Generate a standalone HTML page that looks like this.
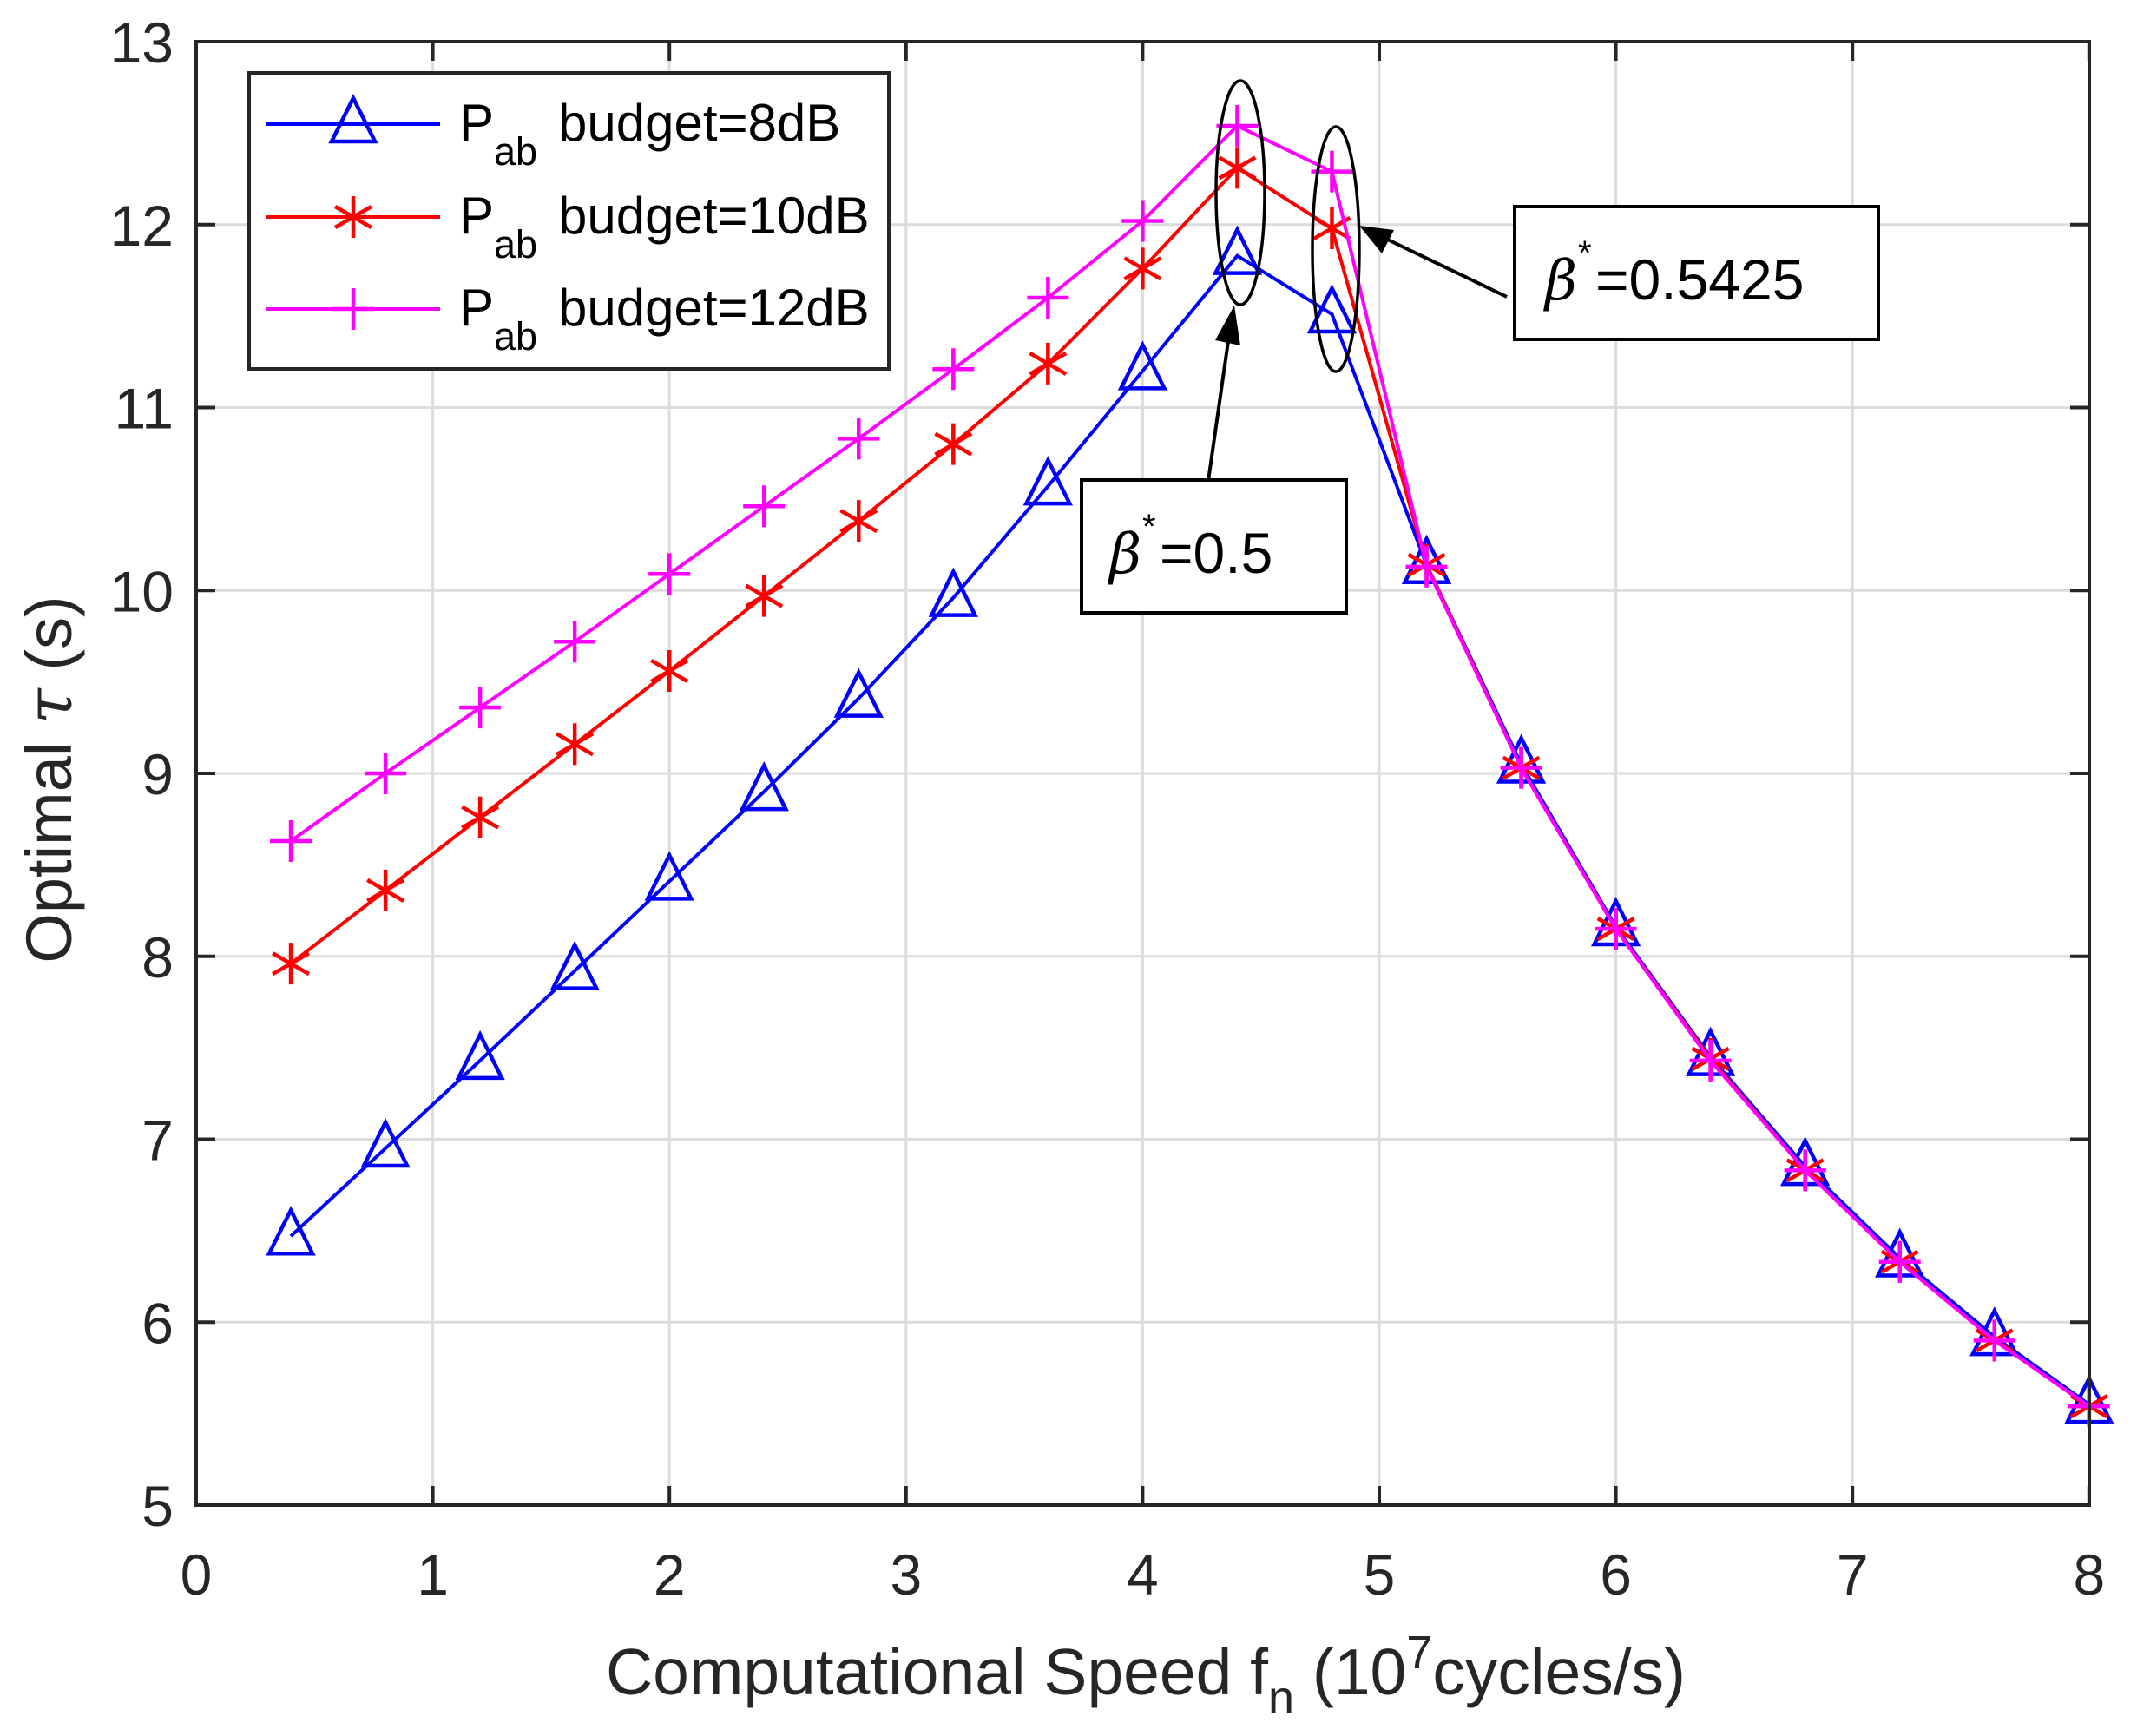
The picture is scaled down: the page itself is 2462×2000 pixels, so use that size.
<!DOCTYPE html>
<html><head><meta charset="utf-8"><style>
html,body{margin:0;padding:0;background:#fff;}
svg{display:block;font-family:"Liberation Sans",Arial,sans-serif;}
</style></head><body>
<svg id="s" width="2462" height="2000" viewBox="0 0 2462 2000" xmlns="http://www.w3.org/2000/svg">
<rect width="2462" height="2000" fill="#fff"/>
<g id="grid" stroke="#dcdcdc" stroke-width="3"></g>
<g id="data"></g>
<g id="axes"></g>
<rect x="287" y="84" width="737" height="341" fill="#fff" stroke="#262626" stroke-width="4"/>
<g id="leg"></g>
<g font-size="60" fill="#000">
<text x="529" y="162">P</text><text x="569" y="190" font-size="45">ab</text><text x="643" y="162">budget=8dB</text>
<text x="529" y="269">P</text><text x="569" y="297" font-size="45">ab</text><text x="643" y="269">budget=10dB</text>
<text x="529" y="375">P</text><text x="569" y="403" font-size="45">ab</text><text x="643" y="375">budget=12dB</text>
</g>
<ellipse cx="1429" cy="222" rx="28" ry="129" fill="none" stroke="#000" stroke-width="3.5"/>
<ellipse cx="1539" cy="287" rx="27" ry="141" fill="none" stroke="#000" stroke-width="3.5"/>
<line x1="1736" y1="342" x2="1580" y2="267" stroke="#000" stroke-width="4"/>
<polygon points="1566,260 1606,265 1592,292" fill="#000"/>
<line x1="1392" y1="554" x2="1418" y2="372" stroke="#000" stroke-width="4"/>
<polygon points="1422,352 1429,398 1400,392" fill="#000"/>
<rect x="1745" y="238" width="419" height="153" fill="#fff" stroke="#000" stroke-width="4"/>
<text x="1780" y="345" font-size="64" font-style="italic" font-family="'DejaVu Serif',serif">β</text>
<text x="1818" y="305" font-size="40">*</text>
<text x="1838" y="345" font-size="66">=0.5425</text>
<rect x="1246" y="553" width="305" height="153" fill="#fff" stroke="#000" stroke-width="4"/>
<text x="1278" y="660" font-size="64" font-style="italic" font-family="'DejaVu Serif',serif">β</text>
<text x="1316" y="620" font-size="40">*</text>
<text x="1336" y="660" font-size="66">=0.5</text>
<text x="1320" y="1952" font-size="75" fill="#262626" text-anchor="middle">Computational Speed f<tspan font-size="54" dy="22">n</tspan><tspan dy="-22"> (10</tspan><tspan font-size="54" dy="-30">7</tspan><tspan dy="30">cycles/s)</tspan></text>
<text transform="translate(82,898) rotate(-90)" font-size="74" fill="#262626" text-anchor="middle">Optimal <tspan font-style="italic" font-family="'DejaVu Serif',serif">τ</tspan> (s)</text>
</svg>
<script>
var NS="http://www.w3.org/2000/svg";
function X(v){return 226+v*272.6;}
function Y(v){return 1734-(v-5)*210.75;}
function el(p,t,a){var e=document.createElementNS(NS,t);for(var k in a)e.setAttribute(k,a[k]);p.appendChild(e);return e;}
var g=document.getElementById('grid'),ax=document.getElementById('axes'),d=document.getElementById('data'),lg=document.getElementById('leg');
for(var i=1;i<8;i++)el(g,'line',{x1:X(i),x2:X(i),y1:48,y2:1734});
for(var j=6;j<13;j++)el(g,'line',{x1:226,x2:2407,y1:Y(j),y2:Y(j)});
el(ax,'rect',{x:226,y:48,width:2181,height:1686,fill:'none',stroke:'#262626','stroke-width':4});
for(var i=0;i<=8;i++){el(ax,'line',{x1:X(i),x2:X(i),y1:1734,y2:1712,stroke:'#262626','stroke-width':4});el(ax,'line',{x1:X(i),x2:X(i),y1:48,y2:70,stroke:'#262626','stroke-width':4});
var t=el(ax,'text',{x:X(i),y:1837,'font-size':66,fill:'#262626','text-anchor':'middle'});t.textContent=i;}
for(var j=5;j<=13;j++){el(ax,'line',{x1:226,x2:248,y1:Y(j),y2:Y(j),stroke:'#262626','stroke-width':4});el(ax,'line',{x1:2407,x2:2385,y1:Y(j),y2:Y(j),stroke:'#262626','stroke-width':4});
var t=el(ax,'text',{x:200,y:Y(j)+24,'font-size':66,fill:'#262626','text-anchor':'end'});t.textContent=j;}
var B=[6.47,6.95,7.43,7.92,8.41,8.90,9.41,9.96,10.57,11.20,11.83,11.51,10.14,9.05,8.16,7.45,6.85,6.35,5.92,5.55];
var R=[7.96,8.36,8.76,9.16,9.56,9.97,10.38,10.80,11.24,11.76,12.31,11.98,10.14,9.03,8.15,7.44,6.83,6.33,5.90,5.54];
var M=[8.63,9.00,9.36,9.72,10.09,10.46,10.83,11.21,11.60,12.02,12.54,12.29,10.13,9.03,8.15,7.43,6.83,6.33,5.90,5.54];
function tri(p,x,y,c){el(p,'polygon',{points:(x)+','+(y-30)+' '+(x-25)+','+(y+20)+' '+(x+25)+','+(y+20),fill:'none',stroke:c,'stroke-width':4.5});}
function star(p,x,y,c){var r=24;var s='M'+(x)+','+(y-r)+'L'+x+','+(y+r)+'M'+(x-r*0.87)+','+(y-r*0.5)+'L'+(x+r*0.87)+','+(y+r*0.5)+'M'+(x-r*0.87)+','+(y+r*0.5)+'L'+(x+r*0.87)+','+(y-r*0.5);el(p,'path',{d:s,stroke:c,'stroke-width':4.5,fill:'none'});}
function plus(p,x,y,c){var r=24;el(p,'path',{d:'M'+(x-r)+','+y+'H'+(x+r)+'M'+x+','+(y-r)+'V'+(y+r),stroke:c,'stroke-width':4.5,fill:'none'});}
function series(D,c,m){var pts=D.map(function(v,i){return X(0.4*(i+1))+','+Y(v);}).join(' ');
el(d,'polyline',{points:pts,fill:'none',stroke:c,'stroke-width':4});
D.forEach(function(v,i){m(d,X(0.4*(i+1)),Y(v),c);});}
series(B,'#0000ff',tri);series(R,'#ff0000',star);series(M,'#ff00ff',plus);
var ly=[143,250,356],cs=['#0000ff','#ff0000','#ff00ff'],ms=[tri,star,plus];
for(var k=0;k<3;k++){el(lg,'line',{x1:306,x2:507,y1:ly[k],y2:ly[k],stroke:cs[k],'stroke-width':4});ms[k](lg,407,ly[k],cs[k]);}
</script>
</body></html>
